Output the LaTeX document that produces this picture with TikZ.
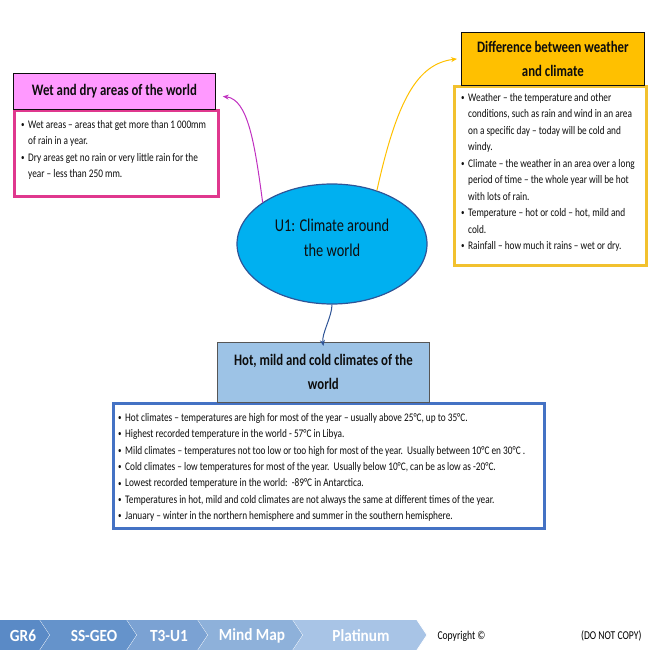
\documentclass[tikz,border=0pt]{standalone}
\usepackage{fontspec}
\setmainfont{Carlito}[FakeStretch=0.8]
\newfontfamily\crumbfont{Carlito}[FakeStretch=0.9]
\usetikzlibrary{arrows.meta,positioning,shapes.geometric}
\definecolor{mmPink}{HTML}{FF99FF}
\definecolor{mmPinkLine}{HTML}{E0388E}
\definecolor{mmMagenta}{HTML}{C030C0}
\definecolor{mmGold}{HTML}{FFC000}
\definecolor{mmGoldLine}{HTML}{F2C12E}
\definecolor{mmSky}{HTML}{9DC3E6}
\definecolor{mmBlueLine}{HTML}{4472C4}
\definecolor{mmHub}{HTML}{00B0F0}
\definecolor{mmHubLine}{HTML}{2F5597}
\definecolor{mmInk}{HTML}{0D0D0D}
\newcommand{\mmbul}{\makebox[7pt][l]{\raisebox{0.15ex}{\scalebox{0.75}{\textbullet}}}}
\newcommand{\mmind}{\hspace*{7pt}}
\tikzset{
    titlebox/.style={draw=mmInk, line width=0.8pt, align=center, anchor=north west, inner sep=0pt, font=\fontsize{16}{24}\selectfont\bfseries, text=mmInk},
    bodybox/.style={line width=2.6pt, fill=white, anchor=north west, inner sep=0pt},
    itemtext/.style={align=left, anchor=north west, inner sep=0pt, font=\fontsize{11.6}{16.4}\selectfont, text=mmInk},
    hub/.style={ellipse, draw=mmHubLine, line width=1.2pt, fill=mmHub, minimum width=190pt, minimum height=120pt, align=center, text depth=12pt, font=\fontsize{18}{25}\selectfont, text=mmInk},
    link/.style={-{Stealth[length=6pt,width=5pt]}, line width=1pt},
    crumb/.style={font=\crumbfont\fontsize{17}{18}\selectfont\bfseries, text=white},
    foot/.style={font=\fontsize{12}{14}\selectfont, text=black}
}

\begin{document}
\begin{tikzpicture}[x=1pt, y=-1pt]
\useasboundingbox (0,0) rectangle (650,650);
% centre
\node[hub] (hub) at (332,244) {U1: Climate around\\the world};
% wet and dry
\node[bodybox, draw=mmPinkLine, minimum width=204pt, minimum height=86pt] (wetbox) at (13,109) {};
\node[itemtext] (wettext) at ([shift={(8,11)}]wetbox.north west) {\mmbul Wet areas -- areas that get more than 1\,000mm\\\mmind of rain in a year.\\\mmbul Dry areas get no rain or very little rain for the\\\mmind year -- less than 250 mm.};
\node[titlebox, fill=mmPink, minimum width=202pt, minimum height=36pt] (wettitle) at (13,73) {Wet and dry areas of the world};
% weather and climate
\node[bodybox, draw=mmGoldLine, minimum width=192pt, minimum height=179pt] (wxbox) at (453,85) {};
\node[itemtext, font=\fontsize{11.6}{16.5}\selectfont] (wxtext) at ([shift={(8,8)}]wxbox.north west) {\mmbul Weather -- the temperature and other\\\mmind conditions, such as rain and wind in an area\\\mmind on a specific day -- today will be cold and\\\mmind windy.\\\mmbul Climate -- the weather in an area over a long\\\mmind period of time -- the whole year will be hot\\\mmind with lots of rain.\\\mmbul Temperature -- hot or cold -- hot, mild and\\\mmind cold.\\\mmbul Rainfall -- how much it rains -- wet or dry.};
\node[titlebox, fill=mmGold, minimum width=183pt, minimum height=53pt] (wxtitle) at (461,32) {Difference between weather\\and climate};
% hot, mild, cold
\node[bodybox, draw=mmBlueLine, minimum width=431pt, minimum height=125pt] (hotbox) at (112,402) {};
\node[itemtext] (hottext) at ([shift={(6,11)}]hotbox.north west) {\mmbul Hot climates -- temperatures are high for most of the year -- usually above 25°C, up to 35°C.\\\mmbul Highest recorded temperature in the world - 57°C in Libya.\\\mmbul Mild climates -- temperatures not too low or too high for most of the year.\ \ Usually between 10°C en 30°C .\\\mmbul Cold climates -- low temperatures for most of the year.\ \ Usually below 10°C, can be as low as -20°C.\\\mmbul Lowest recorded temperature in the world:\ \ -89°C in Antarctica.\\\mmbul Temperatures in hot, mild and cold climates are not always the same at different times of the year.\\\mmbul January -- winter in the northern hemisphere and summer in the southern hemisphere.};
\node[titlebox, fill=mmSky, draw=mmInk!70, minimum width=212pt, minimum height=60pt] (hottitle) at (217,342) {Hot, mild and cold climates of the\\world};
% links
\draw[link, draw=mmMagenta] (hub.149) .. controls +(-8,-60) and +(25,3) .. ([shift={(7,5)}]wettitle.east);
\draw[link, draw=mmGold] (hub.50) .. controls +(20,-90) and +(-40,5) .. ([xshift=-4pt]wxtitle.west);
\draw[link, draw=mmHubLine] (hub.south) .. controls +(0,12) and +(-2,-12) .. ([yshift=-4pt]hottitle.north);
% footer bar
\foreach \xa/\xb/\nd/\col in {0/40/0/5A8AC6, 40/127/10/6593CB, 127/198/10/7BA2D3, 198/293/10/8EB1DA, 293/417/10/A8C4E6}{
    \definecolor{crumbfill}{HTML}{\col}
    \fill[crumbfill] (\xa,620) -- (\xb,620) -- (\xb+10,635) -- (\xb,650) -- (\xa,650) -- (\xa+\nd,635) -- cycle;
    \draw[white, line width=0.8pt] (\xb,620) -- (\xb+10,635) -- (\xb,650);
}
\node[crumb] (gr) at (23,636) {GR6};
\node[crumb] (subj) at (94,636) {SS-GEO};
\node[crumb] (term) at (169,636) {T3-U1};
\node[crumb] (kind) at (252,636) {Mind Map};
\node[crumb] (tier) at (361,636) {Platinum};
\node[foot, anchor=west] (copy) at (434,636) {Copyright ©};
\node[foot, anchor=east] (nocopy) at (645,636) {(DO NOT COPY)};
\end{tikzpicture}
\end{document}
